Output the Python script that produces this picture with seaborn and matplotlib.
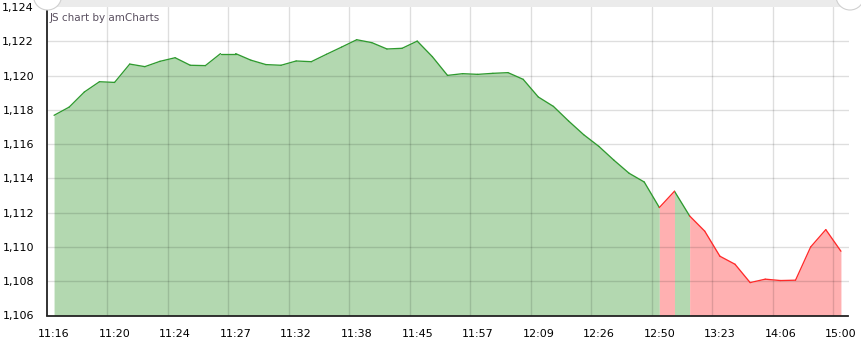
import numpy as np
import pandas as pd
import matplotlib
matplotlib.use("Agg")
import matplotlib.pyplot as plt
import matplotlib.ticker as mticker
from matplotlib.patches import Rectangle, Circle
import seaborn as sns

# ---- data ----
values = [1117.68, 1118.16, 1119.04, 1119.64, 1119.60, 1120.67, 1120.52, 1120.83,
          1121.04, 1120.60, 1120.58, 1121.28, 1121.28, 1120.90, 1120.64, 1120.60,
          1120.85, 1120.81, 1121.24, 1121.66, 1122.09, 1121.92, 1121.55, 1121.59,
          1122.01, 1121.10, 1120.01, 1120.11, 1120.07, 1120.13, 1120.17, 1119.78,
          1118.75, 1118.20, 1117.35, 1116.55, 1115.87, 1115.06, 1114.30, 1113.79,
          1112.30, 1113.25, 1111.81, 1110.92, 1109.46, 1108.99, 1107.92, 1108.12,
          1108.04, 1108.06, 1110.00, 1111.01, 1109.75]
# colour of the segment that starts at each point
point_colors = (["green"] * 40 + ["red", "green"] + ["red"] * 11)
tick_labels = ["11:16", "11:20", "11:24", "11:27", "11:32", "11:38", "11:45",
               "11:57", "12:09", "12:26", "12:50", "13:23", "14:06", "15:00"]
label_every = 4
y_ticks = [1106, 1108, 1110, 1112, 1114, 1116, 1118, 1120, 1122, 1124]

LINE = {"green": "#2f9a2f", "red": "#ff2a2a"}
FILL = {"green": "#b3d8b0", "red": "#ffb0b1"}

n = len(values)
# segment table for the line
rows = []
for i in range(n - 1):
    for j in (i, i + 1):
        rows.append({"seg": i, "idx": j, "value": values[j], "color": point_colors[i]})
seg_df = pd.DataFrame(rows)

# runs of same-coloured segments for the fill
runs = []
start = 0
for i in range(1, n - 1):
    if point_colors[i] != point_colors[start]:
        runs.append((start, i, point_colors[start]))
        start = i
runs.append((start, n - 1, point_colors[start]))

sns.set_style("white")
plt.rcParams["font.family"] = ["DejaVu Sans"]

W, H = 861, 339
fig = plt.figure(figsize=(W / 100, H / 100), dpi=100)
ax = fig.add_axes([46.5 / W, 1 - 315.5 / H, (848.5 - 46.5) / W, (315.5 - 7) / H])

for a, b, c in runs:
    xs = list(range(a, b + 1))
    ax.fill_between(xs, values[a:b + 1], 1106, color=FILL[c], linewidth=0, zorder=1)

sns.lineplot(data=seg_df, x="idx", y="value", hue="color", units="seg",
             estimator=None, palette=LINE, linewidth=0.95, legend=False,
             ax=ax, zorder=3)

ax.set_xlim(-0.5, n - 0.5)
ax.set_ylim(1106, 1124)
ax.set_xlabel("")
ax.set_ylabel("")

ax.set_xticks(list(range(0, n, label_every)))
ax.set_xticklabels(tick_labels)
ax.set_yticks(y_ticks)
ax.yaxis.set_major_formatter(mticker.FuncFormatter(lambda v, p: f"{int(round(v)):,}"))

ax.grid(False)
for k in range(0, n - 1, label_every):
    xg = k + 3.5
    if xg < n - 0.5:
        ax.axvline(xg, color="black", alpha=0.13, linewidth=1, zorder=2)
for yv in y_ticks[1:-1]:
    ax.axhline(yv, color="black", alpha=0.13, linewidth=1, zorder=2)

for s in ["top", "right"]:
    ax.spines[s].set_visible(False)
for s in ["left", "bottom"]:
    ax.spines[s].set_color("#222222")
    ax.spines[s].set_linewidth(1.3)
    ax.spines[s].set_zorder(5)

ax.tick_params(axis="both", which="major", length=4, width=1, color="#222222",
               labelsize=8, labelcolor="#000000", direction="out")
ax.tick_params(axis="x", which="major", pad=5.5)
ax.tick_params(axis="y", which="major", pad=5)

# scrollbar band and handles at top
fig.patches.append(Rectangle((47 / W, 1 - 7 / H), (848 - 47) / W, 7 / H,
                             transform=fig.transFigure, facecolor="#ebebeb",
                             edgecolor="none", zorder=0))
for cx in (47.5, 850):
    fig.patches.append(Circle((cx / 100, (H + 4) / 100), 0.14,
                              transform=fig.dpi_scale_trans, facecolor="white",
                              edgecolor="#d0d0d0", linewidth=0.8, zorder=6))

fig.text(50 / W, 1 - 18 / H, "JS chart by amCharts", fontsize=7.5,
         color="#5a5060", va="center", ha="left")

fig.savefig("out.png", dpi=100)
